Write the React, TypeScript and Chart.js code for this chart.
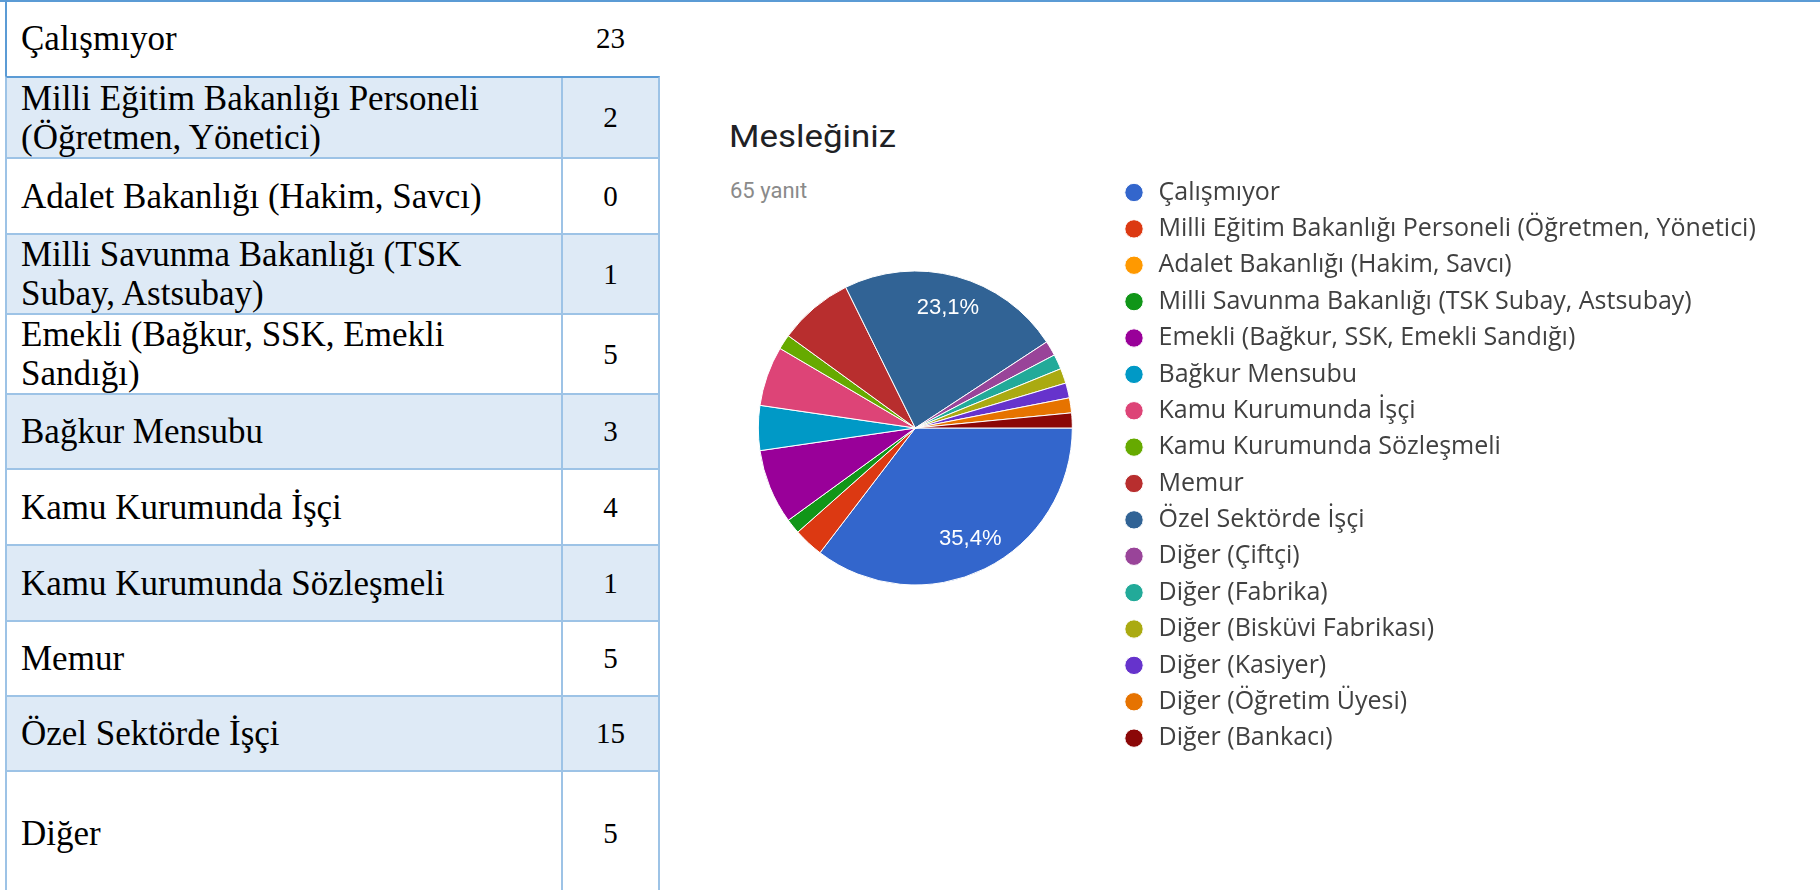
import React, { useEffect, useRef } from 'react';
import { Chart, registerables } from 'chart.js';

Chart.register(...registerables);

// ---------- data ----------
const tableLabels = [
  'Çalışmıyor',
  'Milli Eğitim Bakanlığı Personeli\n(Öğretmen, Yönetici)',
  'Adalet Bakanlığı (Hakim, Savcı)',
  'Milli Savunma Bakanlığı (TSK\nSubay, Astsubay)',
  'Emekli (Bağkur, SSK, Emekli\nSandığı)',
  'Bağkur Mensubu',
  'Kamu Kurumunda İşçi',
  'Kamu Kurumunda Sözleşmeli',
  'Memur',
  'Özel Sektörde İşçi',
  'Diğer',
];
const tableValues = [23, 2, 0, 1, 5, 3, 4, 1, 5, 15, 5];

const pieTitle = 'Mesleğiniz';
const pieSubtitle = '65 yanıt';
const pieLabels = [
  'Çalışmıyor',
  'Milli Eğitim Bakanlığı Personeli (Öğretmen, Yönetici)',
  'Adalet Bakanlığı (Hakim, Savcı)',
  'Milli Savunma Bakanlığı (TSK Subay, Astsubay)',
  'Emekli (Bağkur, SSK, Emekli Sandığı)',
  'Bağkur Mensubu',
  'Kamu Kurumunda İşçi',
  'Kamu Kurumunda Sözleşmeli',
  'Memur',
  'Özel Sektörde İşçi',
  'Diğer (Çiftçi)',
  'Diğer (Fabrika)',
  'Diğer (Bisküvi Fabrikası)',
  'Diğer (Kasiyer)',
  'Diğer (Öğretim Üyesi)',
  'Diğer (Bankacı)',
];
const pieValues = [23, 2, 0, 1, 5, 3, 4, 1, 5, 15, 1, 1, 1, 1, 1, 1];
const pieColors = [
  '#3366cc', '#dc3912', '#ff9900', '#109618', '#990099', '#0099c6', '#dd4477', '#66aa00',
  '#b82e2e', '#316395', '#994499', '#22aa99', '#aaaa11', '#6633cc', '#e67300', '#8b0707',
];

// ---------- layout constants ----------
const ROW_TOPS = [0, 76, 157, 233, 313, 393, 468, 544, 620, 695, 770, 895];
const DARK_LINE = '#5b9bd5';
const LIGHT_LINE = '#9dc3e6';
const SHADE = '#deeaf6';

const CANVAS_W = 1100;
const CANVAS_H = 668;
const LEGEND_FONT_SIZE = 25;
const LEGEND_FONT_FAMILY = '"Open Sans", "Noto Sans", sans-serif';
const LEGEND_PAD = 11.375;
const LEGEND_BOX_W = 24;
const LEGEND_LEFT = 414 - LEGEND_PAD - LEGEND_BOX_W / 2; // dot centre at canvas x 414

const sliceLabelPlugin = {
  id: 'sliceLabels',
  afterDatasetsDraw(chart: any) {
    const ctx = chart.ctx;
    const values = chart.data.datasets[0].data as number[];
    const total = values.reduce((a: number, b: number) => a + b, 0);
    const meta = chart.getDatasetMeta(0);
    ctx.save();
    ctx.fillStyle = '#ffffff';
    ctx.font = '22px "Liberation Sans", Arial, sans-serif';
    ctx.textAlign = 'center';
    ctx.textBaseline = 'middle';
    meta.data.forEach((arc: any, i: number) => {
      const share = values[i] / total;
      if (share < 0.15) return;
      const { x, y, startAngle, endAngle, outerRadius } = arc.getProps(
        ['x', 'y', 'startAngle', 'endAngle', 'outerRadius'],
        true
      );
      const mid = (startAngle + endAngle) / 2;
      const r = outerRadius * 0.79;
      const text = (share * 100).toFixed(1).replace('.', ',') + '%';
      ctx.fillText(text, x + Math.cos(mid) * r, y + Math.sin(mid) * r);
    });
    ctx.restore();
  },
};

function PieChart() {
  const ref = useRef<HTMLCanvasElement | null>(null);
  useEffect(() => {
    if (!ref.current) return;
    // width the legend will need, so the legend box can start at LEGEND_LEFT
    const mctx = document.createElement('canvas').getContext('2d')!;
    mctx.font = `normal ${LEGEND_FONT_SIZE}px ${LEGEND_FONT_FAMILY}`;
    const maxText = Math.max(...pieLabels.map((l) => mctx.measureText(l).width));
    const legendW = LEGEND_PAD + LEGEND_BOX_W + LEGEND_FONT_SIZE / 2 + maxText + 10;
    const padRight = Math.max(0, CANVAS_W - LEGEND_LEFT - legendW);

    const chart = new Chart(ref.current, {
      type: 'pie',
      data: {
        labels: pieLabels,
        datasets: [
          {
            data: pieValues,
            backgroundColor: pieColors,
            borderColor: '#ffffff',
            borderWidth: 1,
            radius: 157,
          } as any,
        ],
      },
      options: {
        responsive: false,
        animation: false,
        devicePixelRatio: 1,
        events: [],
        rotation: 90,
        layout: { padding: { right: padRight } },
        plugins: {
          tooltip: { enabled: false },
          legend: {
            display: true,
            position: 'right',
            align: 'end',
            maxWidth: legendW + 50,
            labels: {
              usePointStyle: true,
              pointStyle: 'circle',
              boxWidth: LEGEND_BOX_W,
              boxHeight: 13,
              padding: LEGEND_PAD,
              color: '#404040',
              font: { family: LEGEND_FONT_FAMILY, size: LEGEND_FONT_SIZE },
            },
          },
        },
      } as any,
      plugins: [sliceLabelPlugin],
    });
    return () => chart.destroy();
  }, []);
  return (
    <canvas
      ref={ref}
      width={CANVAS_W}
      height={CANVAS_H}
      style={{ position: 'absolute', left: 720, top: 94, width: CANVAS_W, height: CANVAS_H }}
    />
  );
}

function DataTable() {
  return (
    <>
      {tableLabels.map((label, i) => {
        const top = ROW_TOPS[i];
        const height = ROW_TOPS[i + 1] - ROW_TOPS[i];
        const first = i === 0;
        const lineColor = i === 1 ? DARK_LINE : LIGHT_LINE;
        return (
          <div
            key={i}
            style={{
              position: 'absolute',
              left: 5,
              top,
              width: 655,
              height,
              boxSizing: 'border-box',
              background: i % 2 === 1 ? SHADE : '#ffffff',
              borderTop: first ? 'none' : `2px solid ${lineColor}`,
              borderLeft: `2px solid ${first ? DARK_LINE : LIGHT_LINE}`,
              borderRight: `2px solid ${first ? 'transparent' : LIGHT_LINE}`,
              display: 'flex',
              alignItems: 'stretch',
              color: '#000',
            }}
          >
            <div
              style={{
                width: 556,
                boxSizing: 'border-box',
                paddingLeft: 14,
                borderRight: `2px solid ${first ? 'transparent' : LIGHT_LINE}`,
                display: 'flex',
                alignItems: 'center',
                whiteSpace: 'pre',
                fontFamily: '"Liberation Serif", "DejaVu Serif", serif',
                fontSize: 35,
                lineHeight: '39px',
              }}
            >
              {label}
            </div>
            <div
              style={{
                flex: 1,
                display: 'flex',
                alignItems: 'center',
                justifyContent: 'center',
                fontFamily: '"Liberation Serif", "DejaVu Serif", serif',
                fontSize: 29,
                lineHeight: '39px',
              }}
            >
              {tableValues[i]}
            </div>
          </div>
        );
      })}
    </>
  );
}

export default function App() {
  return (
    <div
      style={{
        position: 'fixed',
        left: 0,
        top: 0,
        width: 1820,
        height: 890,
        overflow: 'hidden',
        background: '#ffffff',
      }}
    >
      <DataTable />
      <div style={{ position: 'absolute', left: 0, top: 0, width: 1820, height: 2, background: DARK_LINE }} />
      <div
        style={{
          position: 'absolute',
          left: 729,
          top: 120,
          fontFamily: 'Roboto, sans-serif',
          fontSize: 32,
          lineHeight: '32px',
          color: '#202124',
          whiteSpace: 'nowrap',
          transform: 'scaleX(1.09)',
          transformOrigin: 'left top',
        }}
      >
        {pieTitle}
      </div>
      <div
        style={{
          position: 'absolute',
          left: 730,
          top: 180,
          fontFamily: 'Roboto, sans-serif',
          fontSize: 22,
          lineHeight: '22px',
          color: '#8a8a8a',
          whiteSpace: 'nowrap',
        }}
      >
        {pieSubtitle}
      </div>
      <PieChart />
    </div>
  );
}
